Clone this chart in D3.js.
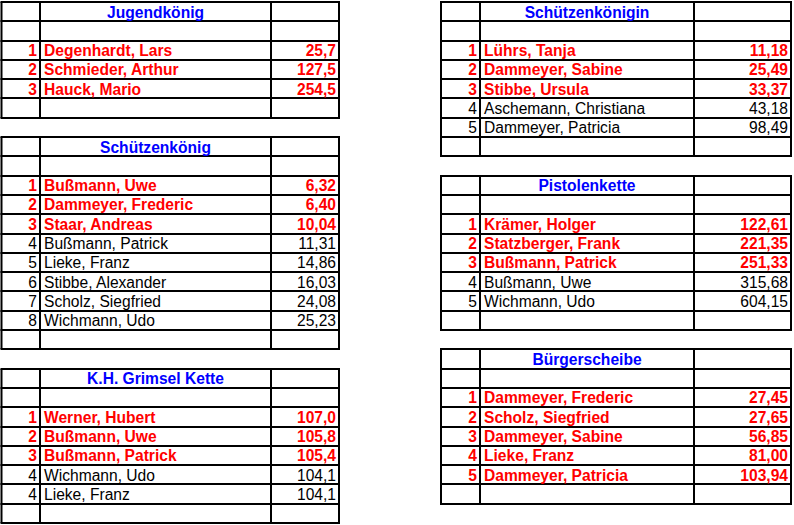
<!DOCTYPE html>
<html>
<head>
<meta charset="utf-8">
<script src="https://cdn.jsdelivr.net/npm/d3@7"></script>
<style>
  body { margin: 0; background: #fff; }
  text { font-family: "Liberation Sans", Arial, sans-serif; font-size: 15.6px; }
</style>
</head>
<body>
<svg id="chart" width="794" height="525"></svg>
<script>
// results per competition
var jugendRanks = [1, 2, 3];
var jugendNames = ["Degenhardt, Lars", "Schmieder, Arthur", "Hauck, Mario"];
var jugendValues = [25.7, 127.5, 254.5];

var koenigRanks = [1, 2, 3, 4, 5, 6, 7, 8];
var koenigNames = ["Bußmann, Uwe", "Dammeyer, Frederic", "Staar, Andreas", "Bußmann, Patrick",
                   "Lieke, Franz", "Stibbe, Alexander", "Scholz, Siegfried", "Wichmann, Udo"];
var koenigValues = [6.32, 6.40, 10.04, 11.31, 14.86, 16.03, 24.08, 25.23];

var grimselRanks = [1, 2, 3, 4, 4];
var grimselNames = ["Werner, Hubert", "Bußmann, Uwe", "Bußmann, Patrick", "Wichmann, Udo", "Lieke, Franz"];
var grimselValues = [107.0, 105.8, 105.4, 104.1, 104.1];

var koeniginRanks = [1, 2, 3, 4, 5];
var koeniginNames = ["Lührs, Tanja", "Dammeyer, Sabine", "Stibbe, Ursula", "Aschemann, Christiana", "Dammeyer, Patricia"];
var koeniginValues = [11.18, 25.49, 33.37, 43.18, 98.49];

var pistoleRanks = [1, 2, 3, 4, 5];
var pistoleNames = ["Krämer, Holger", "Statzberger, Frank", "Bußmann, Patrick", "Bußmann, Uwe", "Wichmann, Udo"];
var pistoleValues = [122.61, 221.35, 251.33, 315.68, 604.15];

var buergerRanks = [1, 2, 3, 4, 5];
var buergerNames = ["Dammeyer, Frederic", "Scholz, Siegfried", "Dammeyer, Sabine", "Lieke, Franz", "Dammeyer, Patricia"];
var buergerValues = [27.45, 27.65, 56.85, 81.00, 103.94];

var titles = ["Jugendkönig", "Schützenkönig", "K.H. Grimsel Kette", "Schützenkönigin", "Pistolenkette", "Bürgerscheibe"];
var winners = [3, 3, 3, 3, 3, 5];   // prize places shown highlighted
var decimals = [1, 2, 1, 2, 2, 2];

var de = d3.formatLocale({decimal: ",", thousands: ".", grouping: [3], currency: ["", " €"]});

var svg = d3.select("#chart");

// row index -> y
var rowY = d3.scaleLinear().domain([0, 27]).range([2, 523]);

var leftCols = [1.5, 40, 271, 339];
var rightCols = [441, 480, 694, 791];

var tables = [
  {ranks: jugendRanks, names: jugendNames, values: jugendValues, row: 0, cols: leftCols},
  {ranks: koenigRanks, names: koenigNames, values: koenigValues, row: 7, cols: leftCols},
  {ranks: grimselRanks, names: grimselNames, values: grimselValues, row: 19, cols: leftCols},
  {ranks: koeniginRanks, names: koeniginNames, values: koeniginValues, row: 0, cols: rightCols},
  {ranks: pistoleRanks, names: pistoleNames, values: pistoleValues, row: 9, cols: rightCols},
  {ranks: buergerRanks, names: buergerNames, values: buergerValues, row: 18, cols: rightCols}
];

tables.forEach(function(t, i) {
  var g = svg.append("g");
  var nRows = t.names.length + 3;   // title, blank, entries, blank
  var top = Math.round(rowY(t.row));
  var bottom = Math.round(rowY(t.row + nRows));
  var fmt = de.format("." + decimals[i] + "f");
  var c = t.cols;

  // horizontal lines
  g.selectAll("line.h")
    .data(d3.range(nRows + 1))
    .enter().append("line")
    .attr("class", "h")
    .attr("x1", c[0] - 1).attr("x2", c[3] + 1)
    .attr("y1", function(d) { return Math.round(rowY(t.row + d)); })
    .attr("y2", function(d) { return Math.round(rowY(t.row + d)); })
    .attr("stroke", "#000").attr("stroke-width", 2);

  // vertical lines
  g.selectAll("line.v")
    .data(c)
    .enter().append("line")
    .attr("class", "v")
    .attr("x1", function(d) { return d; }).attr("x2", function(d) { return d; })
    .attr("y1", top).attr("y2", bottom)
    .attr("stroke", "#000").attr("stroke-width", 2);

  // title
  g.append("text")
    .attr("x", (c[1] + c[2]) / 2)
    .attr("y", rowY(t.row) + 15.5)
    .attr("text-anchor", "middle")
    .attr("font-weight", "bold")
    .attr("fill", "#0000ff")
    .text(titles[i]);

  var rows = g.selectAll("g.row")
    .data(t.names.map(function(n, j) { return {rank: t.ranks[j], name: n, value: t.values[j], j: j}; }))
    .enter().append("g")
    .attr("class", "row")
    .attr("transform", function(d) { return "translate(0," + (rowY(t.row + 2 + d.j) + 15.5) + ")"; })
    .attr("fill", function(d) { return d.j < winners[i] ? "#ff0000" : "#000"; })
    .attr("font-weight", function(d) { return d.j < winners[i] ? "bold" : "normal"; });

  rows.append("text")
    .attr("x", c[1] - 3)
    .attr("text-anchor", "end")
    .text(function(d) { return d.rank; });

  rows.append("text")
    .attr("x", c[1] + 4)
    .text(function(d) { return d.name; });

  rows.append("text")
    .attr("x", c[3] - 3)
    .attr("text-anchor", "end")
    .text(function(d) { return fmt(d.value); });
});
</script>
</body>
</html>
